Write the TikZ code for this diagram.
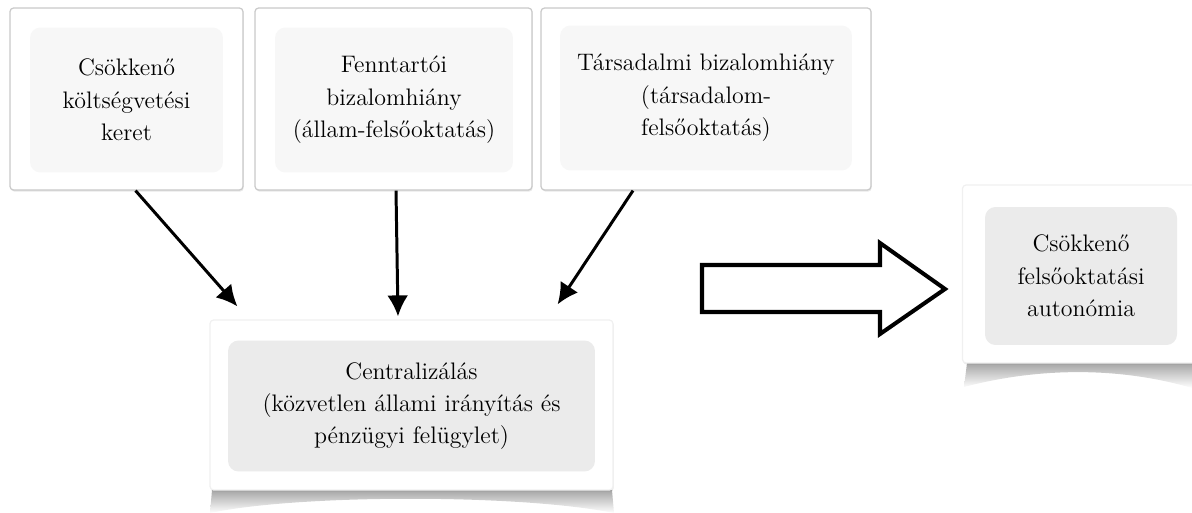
\documentclass[tikz,border=0pt]{standalone}
\usepackage{fontspec}
\usetikzlibrary{arrows.meta,calc,shadows}
\definecolor{boxline}{HTML}{C9C9C9}
\definecolor{paleface}{HTML}{F7F7F7}
\definecolor{greyface}{HTML}{EBEBEB}
\tikzset{
  outerbox/.style = {
    draw=boxline, line width=0.7pt, fill=white, rounded corners=2pt, inner sep=0pt,
    drop shadow={opacity=0.18, shadow xshift=0.4pt, shadow yshift=-0.9pt}
  },
  innerbox/.style = {
    fill=#1, rounded corners=6pt, inner sep=0pt, align=center,
    font=\fontsize{13.6}{18.4}\selectfont
  },
  flowarrow/.style = {->, line width=1.7pt}
}
\tikzset{>={Latex[length=0.42cm,width=0.42cm]}}

\begin{document}
\begin{tikzpicture}[x=0.02cm,y=-0.02cm]
  \useasboundingbox (0,0) rectangle (1192,513);
  % upper boxes
  \node[outerbox, minimum width=4.66cm, minimum height=3.64cm] (keret) at (126.5,99) {};
  \node[innerbox=paleface, minimum width=3.86cm, minimum height=2.9cm] (keretin) at (126.5,100)
    {Csökkenő\\költségvetési\\keret};
  \node[outerbox, minimum width=5.54cm, minimum height=3.64cm] (fenntarto) at (393.5,99) {};
  \node[innerbox=paleface, minimum width=4.76cm, minimum height=2.9cm] (fenntartoin) at (394,100)
    {Fenntartói\\bizalomhiány\\(állam-felsőoktatás)};
  \node[outerbox, minimum width=6.6cm, minimum height=3.64cm] (tarsadalmi) at (706,99) {};
  \node[innerbox=paleface, minimum width=5.84cm, minimum height=2.9cm] (tarsadalmiin) at (706,98)
    {Társadalmi bizalomhiány\\(társadalom-\\felsőoktatás)};
  % curled shadows
  \shade[top color=gray!70, bottom color=white] (212,490) -- (612,490) -- (614,513)
    .. controls (520,494) and (300,494) .. (210,513) -- cycle;
  \shade[top color=gray!70, bottom color=white] (967,363) -- (1192,363) -- (1192,388)
    .. controls (1120,367) and (1040,367) .. (964,387) -- cycle;
  % lower boxes
  \node[outerbox, draw=gray!12, minimum width=8.06cm, minimum height=3.4cm] (central) at (411.5,405) {};
  \node[innerbox=greyface, minimum width=7.34cm, minimum height=2.62cm] (centralin) at (411.5,406)
    {Centralizálás\\(közvetlen állami irányítás és\\pénzügyi felügylet)};
  \node[outerbox, draw=gray!12, minimum width=4.7cm, minimum height=3.56cm] (autonomia) at (1080,274) {};
  \node[innerbox=greyface, minimum width=3.84cm, minimum height=2.76cm] (autonomiain) at (1081,276)
    {Csökkenő\\felsőoktatási\\autonómia};
  % arrows
  \draw[flowarrow] ($(keret.south)+(9,0)$) -- ($(central.north west)+(28,-13)$);
  \draw[flowarrow] ($(fenntarto.south)+(2.5,0)$) -- ($(central.north)+(-13.5,-3)$);
  \draw[flowarrow] ($(tarsadalmi.south)+(-73,0)$) -- ($(central.north east)+(-56,-15)$);
  % big arrow
  \draw[line width=2.3pt, fill=white, line join=miter]
    (702,265) -- (880,265) -- (880,243) -- (945,289) -- (880,334) -- (880,312) -- (702,312) -- cycle;
\end{tikzpicture}
\end{document}
